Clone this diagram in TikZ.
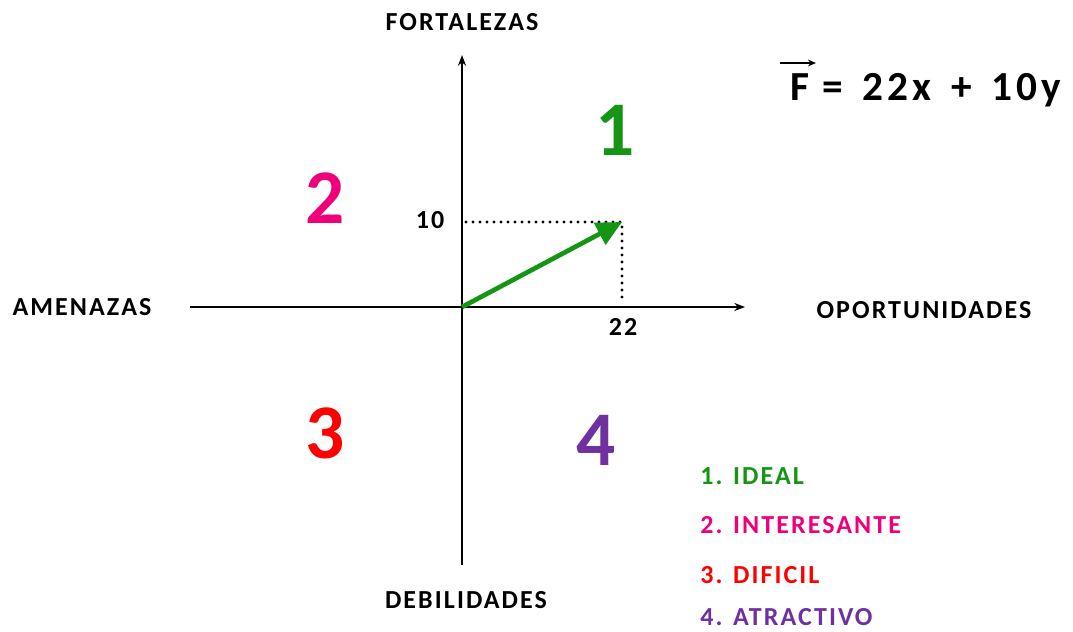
\documentclass[tikz,border=0pt]{standalone}
\usepackage{fontspec}
\setmainfont{Carlito}
\newfontfamily\labfont[LetterSpace=8]{Carlito}
\newfontfamily\eqfont[LetterSpace=9]{Carlito}
\usetikzlibrary{arrows.meta}
\definecolor{cgreen}{RGB}{20,150,20}
\definecolor{cpink}{RGB}{240,0,120}
\definecolor{cred}{RGB}{255,0,0}
\definecolor{cpurple}{RGB}{112,48,160}
\begin{document}
\begin{tikzpicture}[x=0.75pt,y=-0.75pt,
  axis/.style={line width=2pt,-{Stealth[length=8pt,width=6pt]}},
  lab/.style={font=\labfont\fontsize{19.5}{21}\selectfont\bfseries,inner sep=0pt},
  big/.style={font=\fontsize{58}{60}\selectfont\bfseries,inner sep=0pt},
  leg/.style={font=\labfont\fontsize{19.5}{21}\selectfont\bfseries,inner sep=0pt,anchor=west},
  dots/.style={line width=2.6pt,line cap=round,dash pattern=on 0pt off 5.25pt}]
\useasboundingbox (0,0) rectangle (1073,631);
\coordinate (O) at (462,307);
\coordinate (P) at (622,222);
\coordinate (Py) at (466,222);
\coordinate (Px) at (622,297);
\coordinate (L) at (190,307);
\coordinate (R) at (745,307);
\coordinate (T) at (462,55);
\coordinate (B) at (462,565);
\draw[axis] (L) -- (R);
\draw[axis] (B) -- (T);
\draw[dots] (Py) -- (P) -- (Px);
\draw[cgreen,line width=3.5pt,-{Triangle[length=19pt,width=18pt]}] (O) -- (P);
\node[lab] (fort) at (462,22) {FORTALEZAS};
\node[lab] (deb) at (466,600) {DEBILIDADES};
\node[lab] (ame) at (82,307) {AMENAZAS};
\node[lab] (opo) at (924,310) {OPORTUNIDADES};
\node[lab] (n10) at (430,220) {10};
\node[lab] (n22) at (623,327) {22};
\node[big,cgreen] (q1) at (615,130) {1};
\node[big,cpink] (q2) at (325,198) {2};
\node[big,cred] (q3) at (325,433) {3};
\node[big,cpurple] (q4) at (596,440) {4};
\node[font=\eqfont\fontsize{31}{33}\selectfont\bfseries,inner sep=0pt,anchor=west] (eq) at (790,90) {F =\, 22x\, +\, 10y};
\coordinate (a1) at (780,63);
\coordinate (a2) at (816,63);
\draw[line width=1.2pt,-{Stealth[length=6pt,width=5pt]}] (a1) -- (a2);
\node[leg,cgreen] (l1) at (700,476) {1. IDEAL};
\node[leg,cpink] (l2) at (700,525) {2. INTERESANTE};
\node[leg,cred] (l3) at (700,575) {3. DIFICIL};
\node[leg,cpurple] (l4) at (700,617) {4. ATRACTIVO};
\end{tikzpicture}
\end{document}
